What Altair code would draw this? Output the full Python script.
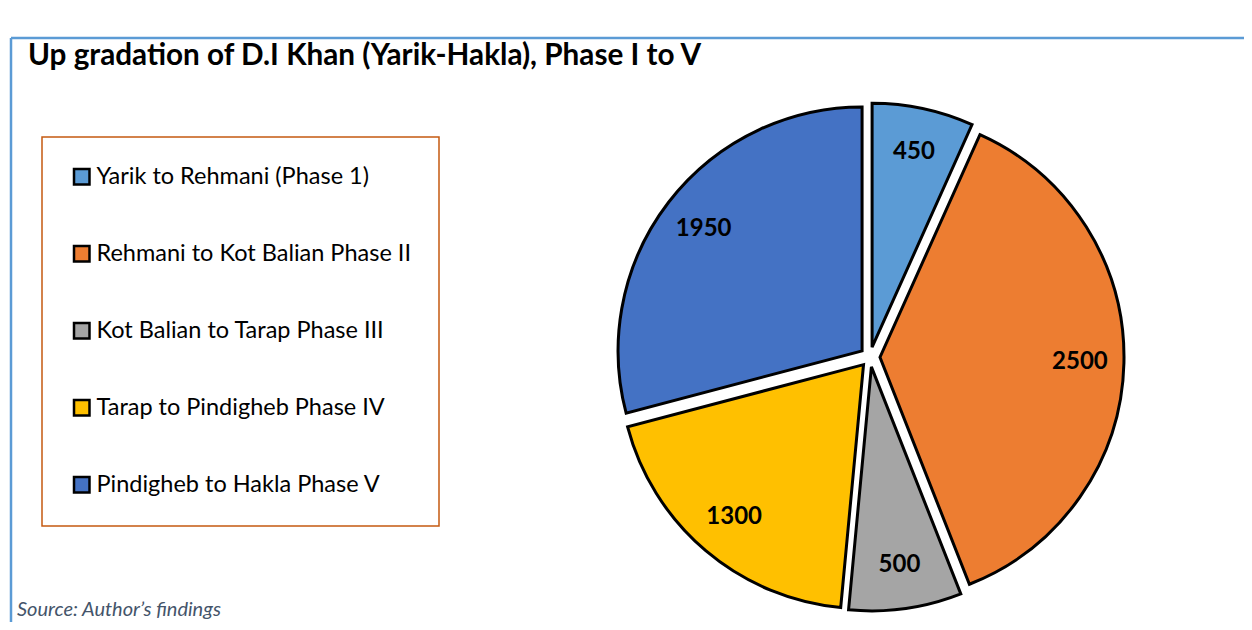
import math
import altair as alt
import pandas as pd

# ---- data ----
categories = [
    "Yarik to Rehmani (Phase 1)",
    "Rehmani to Kot Balian Phase II",
    "Kot Balian to Tarap Phase III",
    "Tarap to Pindigheb Phase IV",
    "Pindigheb to Hakla Phase V",
]
values = [450, 2500, 500, 1300, 1950]
colors = ["#5B9BD5", "#ED7D31", "#A5A5A5", "#FFC000", "#4472C4"]
title_text = "Up gradation of D.I Khan (Yarik-Hakla), Phase I to V"
source_text = "Source: Author\u2019s findings"

# ---- layout ----
W, H = 1233, 584
CX, CY = 859, 319
R = 244
EXPLODE = 10
FRAME = "#5B9BD5"

df = pd.DataFrame({"segment": categories, "value": values, "idx": list(range(len(values)))})

base = (
    alt.Chart(df)
    .transform_joinaggregate(total="sum(value)")
    .transform_window(cum="sum(value)", sort=[alt.SortField("idx")], frame=[None, 0])
    .transform_calculate(
        end="datum.cum / datum.total",
        start="(datum.cum - datum.value) / datum.total",
        mid="(datum.start + datum.end) / 2",
        ox=f"{EXPLODE} * sin(2 * PI * datum.mid)",
        oy=f"-{EXPLODE} * cos(2 * PI * datum.mid)",
    )
)

xs = alt.Scale(domain=[-100, 100], range=[CX - 100, CX + 100])
ys = alt.Scale(domain=[-100, 100], range=[CY - 100, CY + 100])
ts = alt.Scale(domain=[0, 1], range=[0, 2 * math.pi])

arcs = base.mark_arc(radius=R, stroke="black", strokeWidth=3, strokeJoin="miter").encode(
    x=alt.X("ox:Q", scale=xs, axis=None),
    y=alt.Y("oy:Q", scale=ys, axis=None),
    theta=alt.Theta("start:Q", scale=ts),
    theta2="end:Q",
    color=alt.Color(
        "segment:N",
        scale=alt.Scale(domain=categories, range=colors),
        sort=categories,
        legend=alt.Legend(
            title=None,
            orient="none",
            legendX=31,
            legendY=99,
            symbolType="square",
            symbolSize=240,
            symbolStrokeColor="black",
            symbolStrokeWidth=2.5,
            labelFont="Lato",
            labelFontSize=23.5,
            labelColor="black",
            labelLimit=500,
            labelOffset=3,
            rowPadding=51,
            padding=28,
            strokeColor="#C55A11",
            fillColor="white",
        ),
    ),
)

labels = base.mark_text(font="Lato", fontSize=24, fontWeight="bold", color="black").encode(
    x=alt.X("ox:Q", scale=xs, axis=None),
    y=alt.Y("oy:Q", scale=ys, axis=None),
    theta=alt.Theta("mid:Q", scale=ts),
    radius=alt.value(200),
    text=alt.Text("value:Q", format="d"),
)

one = pd.DataFrame({"t": [source_text], "title": [title_text]})
frame_top = alt.Chart(one).mark_rule(color=FRAME, strokeWidth=2.5).encode(
    x=alt.value(0), x2=alt.value(W + 10), y=alt.value(0)
)
frame_left = alt.Chart(one).mark_rule(color=FRAME, strokeWidth=2.5).encode(
    x=alt.value(0), y=alt.value(0), y2=alt.value(H + 10)
)
title = alt.Chart(one).mark_text(
    align="left", baseline="alphabetic", font="Lato", fontSize=29.7, fontWeight="bold", color="black"
).encode(x=alt.value(17), y=alt.value(27), text="title:N")
source = alt.Chart(one).mark_text(
    align="left", baseline="alphabetic", font="Lato", fontSize=20, fontStyle="italic", color="#44546A"
).encode(x=alt.value(6), y=alt.value(578), text="t:N")

chart = (
    alt.layer(frame_top, frame_left, arcs, labels, title, source)
    .properties(
        width=W,
        height=H,
        padding={"left": 3, "top": 30, "right": 0, "bottom": 0},
        autosize=alt.AutoSizeParams(type="none"),
    )
    .configure_view(stroke=None)
    .configure_legend(strokeWidth=1.5)
)

chart.save("out.html", embed_options={"renderer": "svg", "actions": False})
